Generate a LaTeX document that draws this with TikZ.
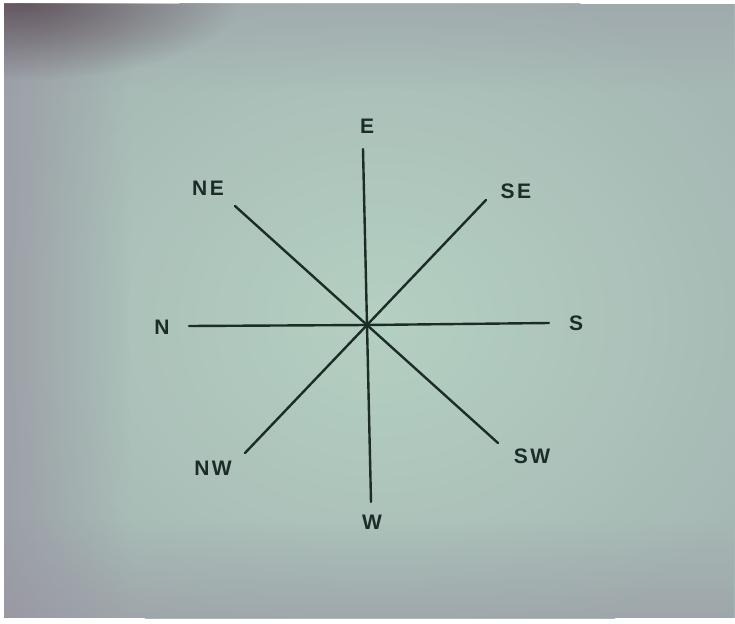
\documentclass[tikz,border=0pt]{standalone}
\usepackage{fontspec}
\setmainfont{Liberation Sans}
\usetikzlibrary{fadings}
\tikzfading[name=softc, inner color=transparent!0, outer color=transparent!100]
\definecolor{paper}{RGB}{166,184,180}
\definecolor{papergreen}{RGB}{180,208,194}
\definecolor{paperpurple}{RGB}{150,144,160}
\definecolor{shadow}{RGB}{92,78,86}
\definecolor{ink}{RGB}{28,44,38}
\tikzset{
  ray/.style={draw=ink, line width=2.4pt, line cap=round},
  lbl/.style={text=ink, font=\bfseries\fontsize{21}{21}\selectfont\addfontfeature{LetterSpace=12}, inner sep=0pt}
}
\begin{document}
\begin{tikzpicture}[x=1pt,y=-1pt]
\useasboundingbox (0,0) rectangle (735,623);
\fill[white] (0,0) rectangle (735,623);
% paper
\begin{scope}
\clip (4,4) rectangle (735,618);
\fill[paper] (4,4) rectangle (735,618);
\shade[inner color=papergreen, outer color=paper] (380,320) ellipse [x radius=420, y radius=360];
\fill[paperpurple, opacity=0.6, path fading=east] (4,4) rectangle (130,618);
\fill[paperpurple, opacity=0.45, path fading=north] (4,520) rectangle (735,618);
\fill[paperpurple, opacity=0.35, path fading=south] (4,4) rectangle (735,90);
\fill[shadow, opacity=0.9, path fading=softc] (20,0) ellipse [x radius=220, y radius=80];
\end{scope}
% rays
\coordinate (c) at (367,325);
\coordinate (pE) at (363,149);
\coordinate (pW) at (371,502);
\coordinate (pN) at (189,326);
\coordinate (pS) at (549,323);
\coordinate (pNE) at (235,206);
\coordinate (pSE) at (486,200);
\coordinate (pNW) at (245,453);
\coordinate (pSW) at (498,443);
\draw[ray] (pE) -- (c) -- (pW);
\draw[ray] (pN) -- (c) -- (pS);
\draw[ray] (pNE) -- (c) -- (pSW);
\draw[ray] (pSE) -- (c) -- (pNW);
% labels
\node[lbl] (E) at (367,126) {E};
\node[lbl] (W) at (372,522) {W};
\node[lbl] (N) at (162,327) {N};
\node[lbl] (S) at (576,323) {S};
\node[lbl] (NE) at (208,188) {NE};
\node[lbl] (SE) at (516,191) {SE};
\node[lbl] (NW) at (213,468) {NW};
\node[lbl] (SW) at (532,456) {SW};
\end{tikzpicture}
\end{document}
